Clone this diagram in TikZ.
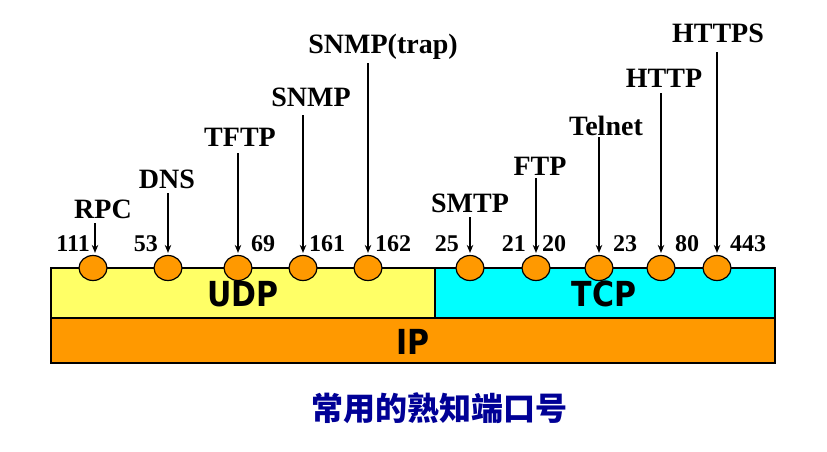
\documentclass[tikz,border=0pt]{standalone}
\usepackage{fontspec}
\setmainfont{Liberation Serif}
\newfontfamily\boxfont{DejaVu Sans}
\newfontfamily\cjk{Noto Sans CJK SC}
\usetikzlibrary{shapes.geometric,arrows.meta}
\definecolor{udpyellow}{RGB}{255,255,102}
\definecolor{tcpcyan}{RGB}{0,255,255}
\definecolor{iporange}{RGB}{255,153,0}
\definecolor{titleblue}{RGB}{0,0,150}
\newcommand{\tallbox}[1]{\scalebox{1}[1.15]{#1}}
\tikzset{
  layer/.style={draw=black,line width=2pt},
  port/.style={ellipse,draw=black,line width=1.2pt,fill=iporange,minimum width=28pt,minimum height=25pt,inner sep=0pt},
  proto/.style={font=\fontsize{28}{30}\selectfont\bfseries,inner sep=0pt,anchor=base},
  num/.style={font=\fontsize{24}{26}\selectfont\bfseries,inner sep=0pt},
  layertext/.style={font=\boxfont\fontsize{30}{31}\selectfont\bfseries,inner sep=0pt},
  arr/.style={-{Stealth[length=8pt,width=6.5pt]},line width=1.3pt,shorten >=2pt}
}
\begin{document}
\begin{tikzpicture}[x=1pt,y=-1pt]
\useasboundingbox[fill=white] (0,0) rectangle (827,451);
% layers
\draw[layer,fill=udpyellow] (51,268) rectangle (435,318);
\draw[layer,fill=tcpcyan] (435,268) rectangle (775,318);
\draw[layer,fill=iporange] (51,318) rectangle (775,363);
\node[layertext] (udp) at (243,294) {\tallbox{UDP}};
\node[layertext] (tcp) at (604,294) {\tallbox{TCP}};
\node[layertext] (ip) at (413,342) {\tallbox{IP}};
% port circles
\node[port] (c1) at (93,268) {};
\node[port] (c2) at (168,268) {};
\node[port] (c3) at (238,268) {};
\node[port] (c4) at (303,268) {};
\node[port] (c5) at (368,268) {};
\node[port] (c6) at (470,268) {};
\node[port] (c7) at (536,268) {};
\node[port] (c8) at (599,268) {};
\node[port] (c9) at (661,268) {};
\node[port] (c10) at (717,268) {};
% port numbers
\node[num,anchor=base east] (n1) at (90,251) {111};
\node[num,anchor=base east] (n2) at (158,251) {53};
\node[num,anchor=base west] (n3) at (251,251) {69};
\node[num,anchor=base west] (n4) at (309,251) {161};
\node[num,anchor=base west] (n5) at (375,251) {162};
\node[num,anchor=base east] (n6) at (459,251) {25};
\node[num,anchor=base east] (n7) at (526,251) {21};
\node[num,anchor=base west] (n8) at (542,251) {20};
\node[num,anchor=base west] (n9) at (613,251) {23};
\node[num,anchor=base west] (n10) at (675,251) {80};
\node[num,anchor=base west] (n11) at (730,251) {443};
% protocol labels
\node[proto] (l1) at (103,218) {RPC};
\node[proto] (l2) at (167,188) {DNS};
\node[proto] (l3) at (240,146) {TFTP};
\node[proto] (l4) at (311,106) {SNMP};
\node[proto] (l5) at (383,53) {SNMP(trap)};
\node[proto] (l6) at (470,212) {SMTP};
\node[proto] (l7) at (540,175) {FTP};
\node[proto] (l8) at (606,135) {Telnet};
\node[proto] (l9) at (664,87) {HTTP};
\node[proto] (l10) at (718,42) {HTTPS};
% start points of arrows
\coordinate (s1) at (95,223);
\coordinate (s2) at (168,193);
\coordinate (s3) at (238,153);
\coordinate (s4) at (303,115);
\coordinate (s5) at (368,63);
\coordinate (s6) at (470,217);
\coordinate (s7) at (536,178);
\coordinate (s8) at (599,137);
\coordinate (s9) at (661,93);
\coordinate (s10) at (717,52);
\foreach \i in {1,...,10}{
  \draw[arr] (s\i) -- (s\i |- c\i.north);
}
% title
\node[font=\cjk\fontsize{32}{34}\selectfont\bfseries,text=titleblue,inner sep=0pt] (title) at (439,408) {常用的熟知端口号};
\end{tikzpicture}
\end{document}
